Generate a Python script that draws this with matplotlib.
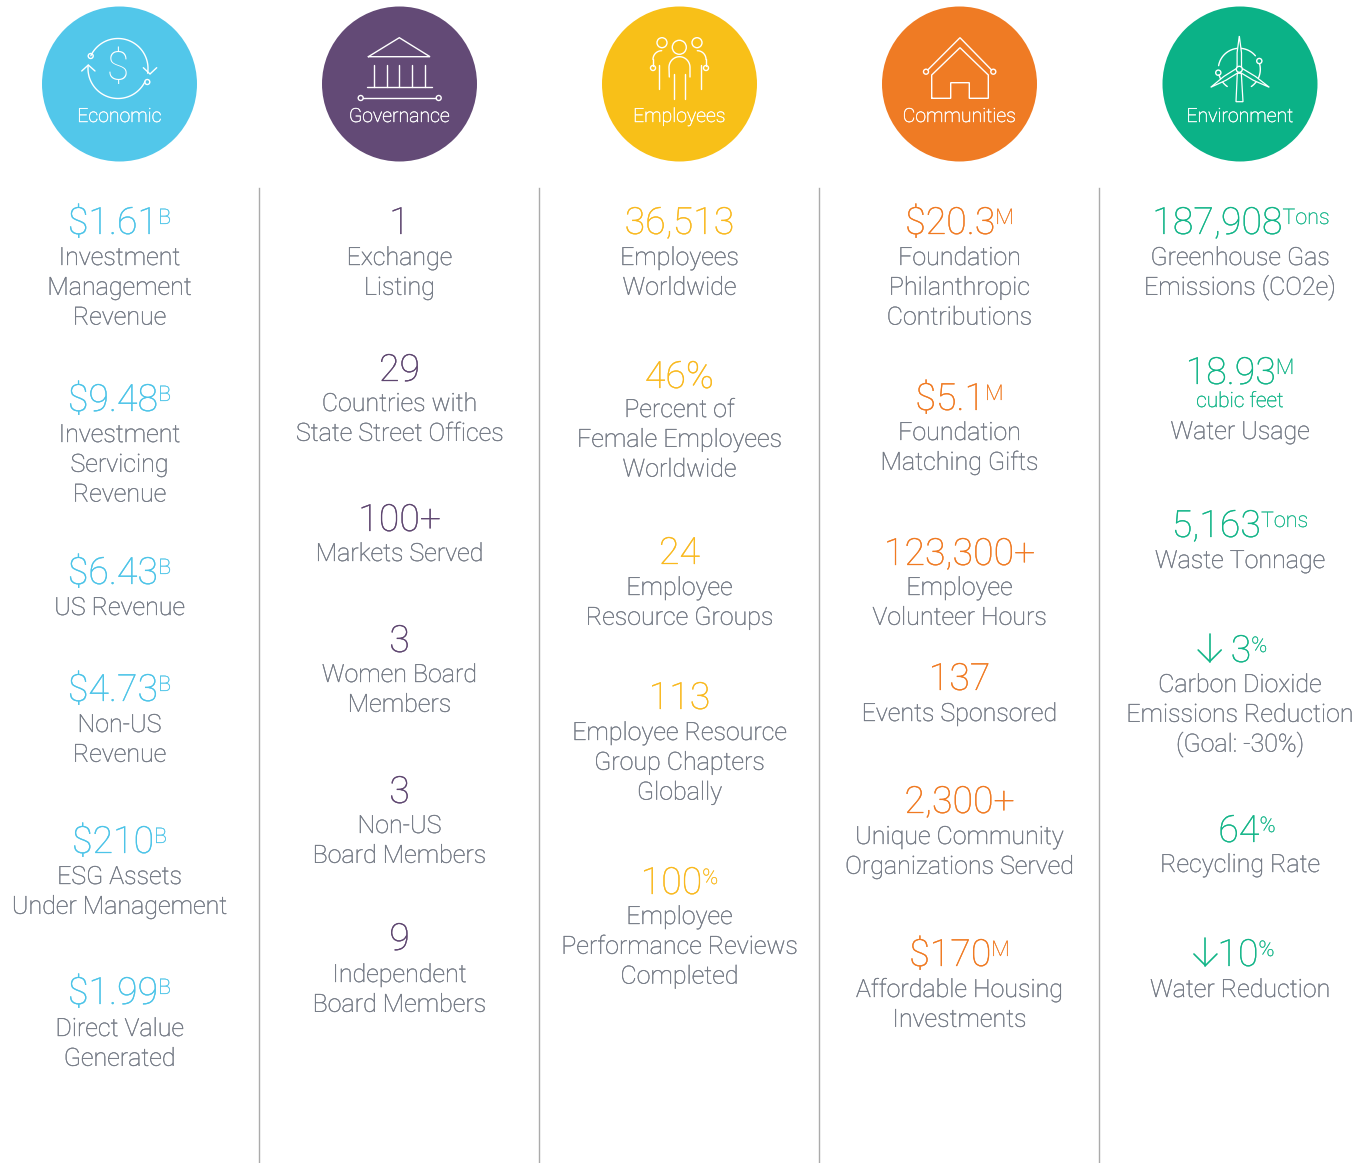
#!/usr/bin/env python3
"""State Street ESG scorecard: five themed columns of headline figures."""
import numpy as np
import matplotlib
matplotlib.use("Agg")
import matplotlib.pyplot as plt
import matplotlib.patheffects as pe
from matplotlib.patches import Circle, Polygon

FONT = "Roboto"
LIGHT = "light"
GREY = "#747a85"

themes = ["Economic", "Governance", "Employees", "Communities", "Environment"]
theme_fill = ["#52c7ea", "#634a76", "#f8c018", "#ef7b24", "#0bb287"]
theme_text = ["#4cc4e8", "#5e4670", "#f9b91f", "#f07a22", "#12b588"]
centers = [119.5, 399.5, 679.5, 959.5, 1240]
dividers = [259, 539, 819, 1099]

econ_values = ["$1.61", "$9.48", "$6.43", "$4.73", "$210", "$1.99"]
econ_suffix = ["B", "B", "B", "B", "B", "B"]
econ_labels = [["Investment", "Management", "Revenue"], ["Investment", "Servicing", "Revenue"],
               ["US Revenue"], ["Non-US", "Revenue"], ["ESG Assets", "Under Management"],
               ["Direct Value", "Generated"]]

gov_values = ["1", "29", "100+", "3", "3", "9"]
gov_suffix = ["", "", "", "", "", ""]
gov_labels = [["Exchange", "Listing"], ["Countries with", "State Street Offices"], ["Markets Served"],
              ["Women Board", "Members"], ["Non-US", "Board Members"], ["Independent", "Board Members"]]

emp_values = ["36,513", "46%", "24", "113", "100"]
emp_suffix = ["", "", "", "", "%"]
emp_labels = [["Employees", "Worldwide"], ["Percent of", "Female Employees", "Worldwide"],
              ["Employee", "Resource Groups"], ["Employee Resource", "Group Chapters", "Globally"],
              ["Employee", "Performance Reviews", "Completed"]]

com_values = ["$20.3", "$5.1", "123,300+", "137", "2,300+", "$170"]
com_suffix = ["M", "M", "", "", "", "M"]
com_labels = [["Foundation", "Philanthropic", "Contributions"], ["Foundation", "Matching Gifts"],
              ["Employee", "Volunteer Hours"], ["Events Sponsored"],
              ["Unique Community", "Organizations Served"], ["Affordable Housing", "Investments"]]

env_values = ["187,908", "18.93", "5,163", "3", "64", "10"]
env_suffix = ["Tons", "M", "Tons", "%", "%", "%"]
env_labels = [["Greenhouse Gas", "Emissions (CO2e)"], ["Water Usage"], ["Waste Tonnage"],
              ["Carbon Dioxide", "Emissions Reduction", "(Goal: -30%)"], ["Recycling Rate"],
              ["Water Reduction"]]

# layout, in reference pixels
econ_value_y = [234, 411, 584, 701, 853, 1004]
econ_label_y = [265, 442, 615, 732, 884, 1036]
gov_value_y = [234, 381, 531, 652, 803, 950]
gov_label_y = [265, 411, 561, 682, 833, 982]
emp_value_y = [234, 388, 564, 709, 894]
emp_label_y = [265, 417, 595, 740, 924]
com_value_y = [234, 410, 565, 690, 813, 966]
com_label_y = [265, 440, 595, 721, 844, 997]
env_value_y = [234, 384, 537, 662, 842, 966]
env_label_y = [265, 439, 568, 692, 872, 997]
env_shift = [1, 0, 0, 9, 7, 6]
down_arrows = {3: -21, 5: -12}

fig = plt.figure(figsize=(13.66, 11.63), dpi=100)
ax = fig.add_axes([0, 0, 1, 1])
ax.set_xlim(0, 1366)
ax.set_ylim(1163, 0)
ax.axis("off")


def thicken(txt, color, width=0.2):
    # Roboto Light renders a bit paler than the print face
    txt.set_path_effects([pe.withStroke(linewidth=width, foreground=color)])
    return txt


def stroke(xs, ys, lw=1.0, color="white"):
    ax.plot(xs, ys, color=color, lw=lw, solid_capstyle="round", solid_joinstyle="miter")


def ring(x, y, r=2.5):
    ax.add_patch(Circle((x, y), r, fc="none", ec="white", lw=1.0))


def arc(cx, cy, r, a0, a1):
    t = np.radians(np.linspace(a0, a1, 60))
    stroke(cx + r * np.cos(t), cy + r * np.sin(t))


def icon_economic():
    arc(118, 68.5, 30, -155, 9)
    arc(118, 68.5, 30, 186, 26)
    stroke([143.3, 150, 156.7], [67.7, 74, 67.7])
    stroke([81.7, 88.3, 95], [71, 65, 71])
    ring(90.7, 56)
    ring(147.3, 82)
    ax.text(118, 68.5, "$", color="white", fontsize=29, family=FONT, weight=LIGHT,
            ha="center", va="center")


def icon_governance():
    stroke([368.3, 399.3, 430, 368.3], [56.7, 37.7, 56.7, 56.7])
    for x in [373.7, 386.7, 399.3, 412.3, 425.3]:
        stroke([x, x], [65, 87.3])
    stroke([366.7, 432], [87.3, 87.3])
    stroke([363.2, 436.2], [98, 98])
    ring(360.7, 98)
    ring(438.7, 98)


def icon_employees():
    ring(679.3, 47.3, 7)
    ring(662, 42.7, 5)
    ring(697, 42.7, 5)
    t = np.radians(np.linspace(180, 360, 40))
    stroke(np.r_[669.3, 679.5 + 10.5 * np.cos(t), 690],
           np.r_[77, 67.5 + 10.8 * np.sin(t), 77])
    for x in [674.3, 685.3]:
        stroke([x, x], [74, 98.7])
    for x in [659, 700.7]:
        stroke([x, x], [65, 89.3])
    t = np.radians(np.linspace(180, 270, 20))
    stroke(661.7 + 8.7 * np.cos(t), 59.4 + 8.7 * np.sin(t))
    t = np.radians(np.linspace(270, 360, 20))
    stroke(697.3 + 8.7 * np.cos(t), 59.4 + 8.7 * np.sin(t))
    stroke([653, 653], [59.4, 65.5])
    stroke([706, 706], [59.4, 65.5])
    ring(653, 68)
    ring(706, 68)


def icon_communities():
    stroke([927.8, 960, 991.5], [69.9, 37.7, 69.9])
    ring(926, 71.7)
    ring(993.3, 71.7)
    stroke([931.7, 931.7, 960, 988.3, 988.3, 969.3, 969.3, 950.7, 950.7, 931.7],
           [98.3, 75, 47.7, 75, 98.3, 98.3, 82.7, 82.7, 98.3, 98.3])


def icon_environment():
    hx, hy = 1239.3, 69.3
    arc(hx, hy, 21, 190, 320)
    arc(hx, hy, 21, -15, 55)
    arc(hx, hy, 21, 125, 165)
    ring(1259.3, 61, 2.6)
    ring(1218.3, 72.7, 2.6)
    for tip in [(hx, 36), (1269.3, 87.3), (1210.7, 87.3)]:
        dx, dy = tip[0] - hx, tip[1] - hy
        nx, ny = -dy, dx
        n = np.hypot(nx, ny)
        nx, ny = 2.2 * nx / n, 2.2 * ny / n
        ax.add_patch(Polygon([(hx + nx, hy + ny), (hx + 0.5 * dx + nx, hy + 0.5 * dy + ny), tip,
                              (hx + 0.5 * dx - nx, hy + 0.5 * dy - ny), (hx - nx, hy - ny)],
                             fc=theme_fill[4], ec="white", lw=0.9, zorder=4))
    ax.add_patch(Polygon([(hx - 2, hy + 4), (hx + 2, hy + 4), (1243, 101.7), (1236, 101.7)],
                         fc=theme_fill[4], ec="white", lw=0.9, zorder=4))
    ax.add_patch(Circle((hx, hy), 3, fc=theme_fill[4], ec="white", lw=1.0, zorder=5))


def value_line(x, y, value, suffix, color, arrow_gap=None):
    # centre value + superscript as one group, so measure both first
    vt = ax.text(x, y, value, color=color, fontsize=27, family=FONT, weight=LIGHT,
                 ha="left", va="baseline")
    thicken(vt, color)
    r = fig.canvas.get_renderer()
    vw = vt.get_window_extent(r).width
    if suffix:
        st = ax.text(x, y - 10, suffix, color=color, fontsize=15.5, family=FONT, weight=LIGHT,
                     ha="left", va="baseline")
        thicken(st, color, 0.15)
        sw = st.get_window_extent(r).width
    else:
        st, sw = None, 0
    left = x - (vw + sw) / 2
    vt.set_x(left)
    if st is not None:
        st.set_x(left + vw)
    if arrow_gap is not None:
        ax_x = left + arrow_gap
        stroke([ax_x, ax_x], [y - 28, y - 0.5], color=color, lw=1.2)
        stroke([ax_x - 11.5, ax_x, ax_x + 11.5], [y - 12, y - 0.5, y - 12], color=color, lw=1.2)


def label_block(x, y, lines):
    for i, line in enumerate(lines):
        txt = ax.text(x, y + i * 29.8, line, color=GREY, fontsize=18, family=FONT, weight=LIGHT,
                      ha="center", va="baseline")
        thicken(txt, GREY, 0.25)


fig.canvas.draw()

for x in dividers:
    ax.plot([x, x], [188, 1163], color="#ababab", lw=1.0)

for x, name, fill in zip(centers, themes, theme_fill):
    ax.add_patch(Circle((x, 84), 77.5, fc=fill, ec="none"))
    name_txt = ax.text(x, 122, name, color="white", fontsize=14, family=FONT, weight=LIGHT,
                       ha="center", va="baseline", zorder=6)
    thicken(name_txt, "white", 0.3)

icon_economic()
icon_governance()
icon_employees()
icon_communities()
icon_environment()

columns = [
    (econ_values, econ_suffix, econ_labels, econ_value_y, econ_label_y),
    (gov_values, gov_suffix, gov_labels, gov_value_y, gov_label_y),
    (emp_values, emp_suffix, emp_labels, emp_value_y, emp_label_y),
    (com_values, com_suffix, com_labels, com_value_y, com_label_y),
    (env_values, env_suffix, env_labels, env_value_y, env_label_y),
]
for c, (vals, sufs, labs, vy, ly) in enumerate(columns):
    for i, (v, s, l) in enumerate(zip(vals, sufs, labs)):
        shift = env_shift[i] if c == 4 else 0
        gap = down_arrows.get(i) if c == 4 else None
        value_line(centers[c] + shift, vy[i], v, s, theme_text[c], gap)
        label_block(centers[c], ly[i], l)

cubic = ax.text(centers[4], 407, "cubic feet", color=theme_text[4], fontsize=15, family=FONT,
                weight=LIGHT, ha="center", va="baseline")
thicken(cubic, theme_text[4], 0.25)

fig.savefig("out.png", dpi=100)
